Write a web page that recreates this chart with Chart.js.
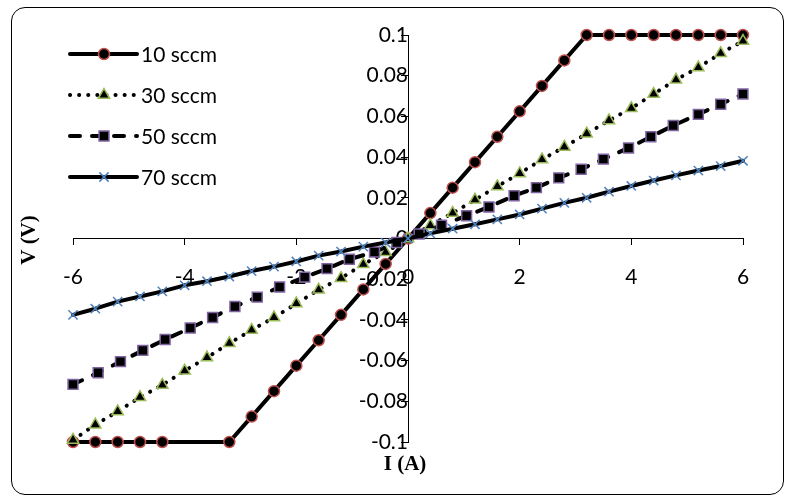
<!DOCTYPE html>
<html>
<head>
<meta charset="utf-8">
<script src="https://cdn.jsdelivr.net/npm/chart.js@4.4.1/dist/chart.umd.min.js"></script>
<style>
  html, body { margin: 0; padding: 0; background: #fff; }
  #wrap { position: relative; width: 792px; height: 501px; }
  #frame { position: absolute; left: 11px; top: 7px; width: 771px; height: 486px; border: 1px solid #000; border-radius: 14px; }
  #myChart { position: absolute; left: 0; top: 0; }
</style>
</head>
<body>
<div id="wrap">
  <div id="frame"></div>
  <canvas id="myChart" width="792" height="501"></canvas>
</div>
<script>
// current (A) for 10, 30 and 70 sccm
const current = [-6, -5.6, -5.2, -4.8, -4.4, -4, -3.6, -3.2, -2.8, -2.4, -2, -1.6, -1.2, -0.8, -0.4, 0,
  0.4, 0.8, 1.2, 1.6, 2, 2.4, 2.8, 3.2, 3.6, 4, 4.4, 4.8, 5.2, 5.6, 6];
// 50 sccm was measured at slightly different currents
const current50 = [-6, -5.55, -5.15, -4.75, -4.35, -3.9, -3.5, -3.1, -2.7, -2.3, -1.85, -1.45, -1.05, -0.6, -0.2,
  0.2, 0.6, 1.05, 1.45, 1.9, 2.3, 2.7, 3.1, 3.5, 3.95, 4.35, 4.75, 5.2, 5.6, 6];

const v10 = [-0.1, -0.1, -0.1, -0.1, -0.1, null, null, -0.1, -0.0875, -0.075, -0.0625, -0.05, -0.0375, -0.025, -0.0125, 0,
  0.0125, 0.025, 0.0375, 0.05, 0.0625, 0.075, 0.0875, 0.1, 0.1, 0.1, 0.1, 0.1, 0.1, 0.1, 0.1];
const v30 = [-0.099, -0.0915, -0.085, -0.078, -0.072, -0.065, -0.0585, -0.0515, -0.045, -0.0388, -0.032, -0.0252, -0.0195, -0.0127, -0.0068, 0,
  0.0064, 0.0125, 0.019, 0.0256, 0.032, 0.0388, 0.045, 0.0515, 0.058, 0.064, 0.071, 0.078, 0.084, 0.091, 0.097];
const v50 = [-0.0717, -0.066, -0.0605, -0.055, -0.0496, -0.044, -0.0388, -0.0334, -0.0288, -0.0238, -0.019, -0.0148, -0.0102, -0.0066, -0.002,
  0.0022, 0.0065, 0.0112, 0.0155, 0.021, 0.025, 0.0298, 0.034, 0.039, 0.0445, 0.05, 0.0555, 0.061, 0.066, 0.071];
const v70 = [-0.0375, -0.0345, -0.031, -0.0285, -0.026, -0.023, -0.021, -0.0187, -0.016, -0.0138, -0.0113, -0.0084, -0.0064, -0.004, -0.002, 0,
  0.0025, 0.0048, 0.007, 0.0094, 0.0118, 0.0147, 0.0175, 0.02, 0.023, 0.0258, 0.0285, 0.031, 0.0334, 0.0356, 0.0382];

const seriesNames = ["10 sccm", "30 sccm", "50 sccm", "70 sccm"];
const xTickValues = [-6, -4, -2, 0, 2, 4, 6];
const yTickValues = [-0.1, -0.08, -0.06, -0.04, -0.02, 0, 0.02, 0.04, 0.06, 0.08, 0.1];
const xTitle = "I (A)";
const yTitle = "V (V)";

function points(xs, ys) {
  return xs.map((x, i) => ({ x: x, y: ys[i] }));
}

Chart.defaults.font.family = "Lato";
Chart.defaults.font.size = 21;
Chart.defaults.color = "#000";

const extras = {
  id: "extras",
  afterDraw(chart) {
    const c = chart.ctx;
    chart.data.datasets.forEach((ds, i) => {
      const y = 54 + i * 41;
      c.save();
      c.lineWidth = ds.borderWidth;
      c.strokeStyle = ds.borderColor;
      c.lineCap = ds.borderCapStyle;
      c.setLineDash(ds.borderDash || []);
      c.beginPath();
      c.moveTo(70, y);
      c.lineTo(137, y);
      c.stroke();
      c.setLineDash([]);
      c.lineCap = "butt";
      c.fillStyle = ds.pointBackgroundColor;
      c.strokeStyle = ds.pointBorderColor;
      c.lineWidth = ds.pointBorderWidth;
      Chart.helpers.drawPoint(c, {
        pointStyle: ds.pointStyle, radius: ds.pointRadius, rotation: 0, borderWidth: ds.pointBorderWidth
      }, 104, y);
      c.fillStyle = "#000";
      c.font = "21px Lato";
      c.textAlign = "left";
      c.textBaseline = "middle";
      c.fillText(ds.label, 141, y + 1);
      c.restore();
    });

    // axis titles
    c.save();
    c.fillStyle = "#000";
    c.font = "bold 21px 'Liberation Serif'";
    c.textAlign = "center";
    c.textBaseline = "middle";
    c.fillText(xTitle, 405, 465);
    c.translate(30, 240);
    c.rotate(-Math.PI / 2);
    c.fillText(yTitle, 0, 0);
    c.restore();
  }
};

const myChart = new Chart(document.querySelector("#myChart").getContext("2d"), {
  type: "line",
  data: {
    datasets: [
      {
        label: seriesNames[0],
        data: points(current, v10),
        borderColor: "#000",
        borderWidth: 4,
        borderCapStyle: "round",
        borderJoinStyle: "round",
        spanGaps: true,
        segment: {
          borderWidth: (s) => (s.p1.parsed.x - s.p0.parsed.x > 0.5 ? 2 : 4)
        },
        pointStyle: "circle",
        pointRadius: 5.5,
        pointBackgroundColor: "#000",
        pointBorderColor: "#C0504D",
        pointBorderWidth: 1.5,
        order: 4,
        clip: false
      },
      {
        label: seriesNames[1],
        data: points(current, v30),
        borderColor: "#000",
        borderWidth: 4,
        borderCapStyle: "round",
        borderDash: [0.1, 9],
        pointStyle: "triangle",
        pointRadius: 6.5,
        pointBackgroundColor: "#000",
        pointBorderColor: "#9BBB59",
        pointBorderWidth: 1.5,
        order: 3,
        clip: false
      },
      {
        label: seriesNames[2],
        data: points(current50, v50),
        borderColor: "#000",
        borderWidth: 4,
        borderCapStyle: "round",
        borderDash: [10, 12],
        pointStyle: "rect",
        pointRadius: 7,
        pointBackgroundColor: "#000",
        pointBorderColor: "#8064A2",
        pointBorderWidth: 1.5,
        order: 2,
        clip: false
      },
      {
        label: seriesNames[3],
        data: points(current, v70),
        borderColor: "#000",
        borderWidth: 4,
        borderCapStyle: "round",
        borderJoinStyle: "round",
        pointStyle: "crossRot",
        pointRadius: 6.5,
        pointBackgroundColor: "#000",
        pointBorderColor: "#4F81BD",
        pointBorderWidth: 1.5,
        order: 1,
        clip: false
      }
    ]
  },
  options: {
    responsive: false,
    animation: false,
    devicePixelRatio: 1,
    layout: { padding: { left: 73, right: 49, top: 35, bottom: 59 } },
    plugins: { legend: { display: false }, tooltip: { enabled: false } },
    scales: {
      x: {
        type: "linear",
        position: { y: 0 },
        min: -6,
        max: 6,
        afterBuildTicks: (scale) => { scale.ticks = xTickValues.map((v) => ({ value: v })); },
        ticks: { padding: 20, maxRotation: 0, callback: (v) => String(v) },
        grid: { drawOnChartArea: false, tickLength: 6, color: "#000" },
        border: { color: "#000", width: 1 }
      },
      y: {
        type: "linear",
        position: { x: 0 },
        min: -0.1,
        max: 0.1,
        afterBuildTicks: (scale) => { scale.ticks = yTickValues.map((v) => ({ value: v })); },
        ticks: { padding: 15, callback: (v) => String(v) },
        grid: { drawOnChartArea: false, tickLength: 7, color: "#000" },
        border: { color: "#000", width: 1 }
      }
    }
  },
  plugins: [extras]
});
</script>
</body>
</html>
